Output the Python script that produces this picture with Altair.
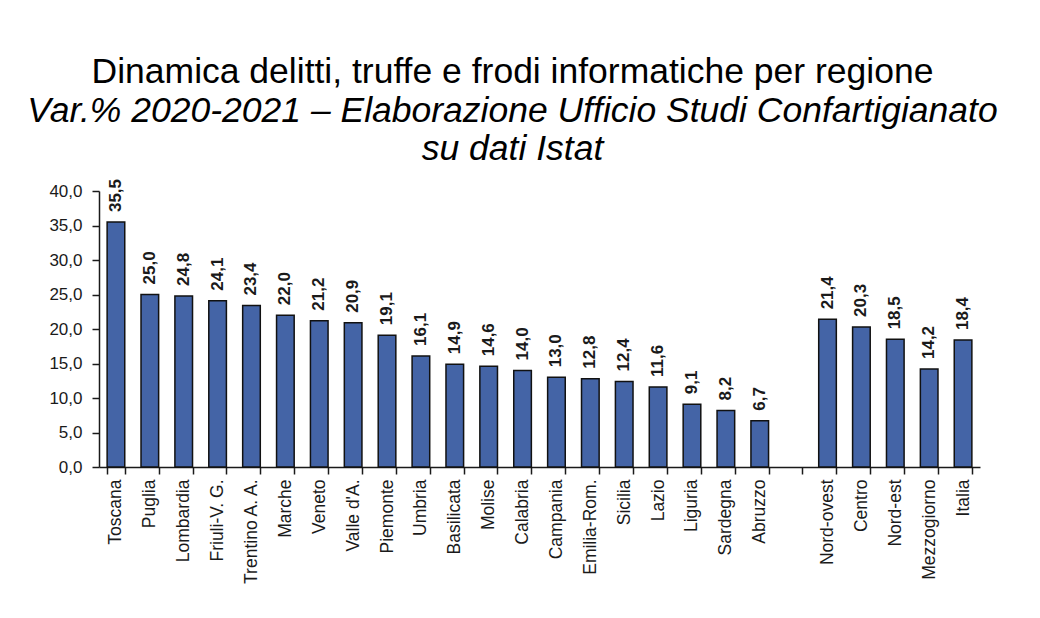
import altair as alt
import pandas as pd

categories = ["Toscana", "Puglia", "Lombardia", "Friuli-V. G.", "Trentino A. A.", "Marche",
              "Veneto", "Valle d'A.", "Piemonte", "Umbria", "Basilicata", "Molise", "Calabria",
              "Campania", "Emilia-Rom.", "Sicilia", "Lazio", "Liguria", "Sardegna", "Abruzzo",
              " ", "Nord-ovest", "Centro", "Nord-est", "Mezzogiorno", "Italia"]
values = [35.5, 25.0, 24.8, 24.1, 23.4, 22.0, 21.2, 20.9, 19.1, 16.1, 14.9, 14.6, 14.0,
          13.0, 12.8, 12.4, 11.6, 9.1, 8.2, 6.7, None, 21.4, 20.3, 18.5, 14.2, 18.4]
y_ticks = [0, 5, 10, 15, 20, 25, 30, 35, 40]

labels = ["" if v is None else f"{v:.1f}".replace(".", ",") for v in values]
df = pd.DataFrame({"regione": categories, "valore": values, "etichetta": labels})

FONT = "Liberation Sans, Arial, Helvetica"

xscale = alt.Scale(domain=categories, paddingInner=0.48, paddingOuter=0.24)
yscale = alt.Scale(domain=[0, 40], nice=False)

xaxis = alt.Axis(title=None, labelAngle=-90, labelFont=FONT, labelFontSize=17.5,
                 labelColor="#1a1a1a", labelPadding=5, tickBand="extent",
                 tickSize=7, tickColor="#1a1a1a", domainColor="#1a1a1a",
                 domainWidth=1.5, tickWidth=1.5, labelOverlap=False)
yaxis = alt.Axis(title=None, values=y_ticks,
                 labelExpr="replace(format(datum.value, '.1f'), '.', ',')",
                 labelFont=FONT, labelFontSize=17, labelColor="#1a1a1a",
                 labelPadding=10, tickSize=7, tickColor="#1a1a1a",
                 domainColor="#1a1a1a", domainWidth=1.5, tickWidth=1.5,
                 grid=False, labelOverlap=False)

x = alt.X("regione:N", sort=categories, scale=xscale, axis=xaxis)
y = alt.Y("valore:Q", scale=yscale, axis=yaxis)

base = alt.Chart(df).transform_filter("datum.valore != null")

bars = base.mark_bar(color="#4464a6", stroke="#111111", strokeWidth=1.5).encode(x=x, y=y)

text = base.mark_text(angle=270, align="left", baseline="middle", dx=10,
                      font=FONT, fontSize=17, fontWeight="bold", color="#1a1a1a").encode(
    x=x, y=y, text="etichetta:N")

chart = alt.layer(bars, text).properties(
    width=881, height=276,
    background="white",
    padding={"left": 19, "top": 46, "right": 20, "bottom": 5},
    title=alt.TitleParams(
        text="Dinamica delitti, truffe e frodi informatiche per regione",
        subtitle=["Var.% 2020-2021 \u2013 Elaborazione Ufficio Studi Confartigianato", "su dati Istat"],
        font=FONT, fontSize=35.5, fontWeight="normal", color="#000000",
        subtitleFont=FONT, subtitleFontSize=35.5, subtitleFontStyle="italic",
        subtitleColor="#000000", subtitleLineHeight=38, subtitlePadding=4,
        anchor="middle", dx=-27, offset=11),
).configure_view(stroke=None)

chart.save("out.html", embed_options={"renderer": "svg", "actions": False})
